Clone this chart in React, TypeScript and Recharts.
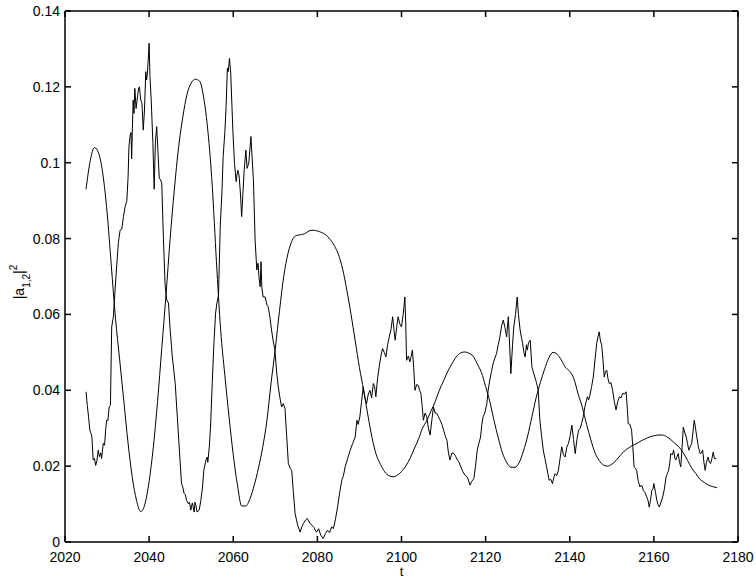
import { Line, LineChart, XAxis, YAxis } from "recharts";
import { ReactElement } from "react";

// time axis ticks and amplitude ticks
const xTicks = [2020, 2040, 2060, 2080, 2100, 2120, 2140, 2160, 2180];
const yTicks = [0, 0.02, 0.04, 0.06, 0.08, 0.1, 0.12, 0.14];

// smooth mode, one sample per unit of t starting at 2025
const smoothStart = 2025;
const smoothValues = [
  0.093, 0.1005, 0.104, 0.1025, 0.097, 0.087, 0.073, 0.059, 0.048, 0.037,
  0.026, 0.017, 0.011, 0.008, 0.01, 0.016, 0.025, 0.037, 0.051, 0.065,
  0.08, 0.093, 0.104, 0.112, 0.118, 0.121, 0.122, 0.1215, 0.117, 0.108,
  0.094, 0.074, 0.056, 0.044, 0.033, 0.023, 0.015, 0.0095, 0.0095, 0.0115,
  0.015, 0.0195, 0.025, 0.032, 0.042, 0.051, 0.061, 0.07, 0.076, 0.0795,
  0.0808, 0.081, 0.0813, 0.082, 0.0822, 0.082, 0.0816, 0.081, 0.0798, 0.0782,
  0.0758, 0.072, 0.0664, 0.06, 0.053, 0.046, 0.04, 0.0335, 0.0275, 0.023,
  0.0205, 0.0185, 0.0175, 0.0172, 0.0176, 0.0186, 0.02, 0.022, 0.0245, 0.027,
  0.03, 0.032, 0.0345, 0.037, 0.04, 0.0425, 0.045, 0.047, 0.0488, 0.0498,
  0.0501, 0.0498, 0.049, 0.047, 0.0447, 0.041, 0.037, 0.032, 0.0275, 0.0235,
  0.021, 0.0197, 0.0197, 0.021, 0.024, 0.028, 0.033, 0.038, 0.042, 0.0455,
  0.0485, 0.05, 0.0495, 0.048, 0.046, 0.045, 0.043, 0.039, 0.0355, 0.031,
  0.027, 0.0235, 0.0215, 0.0203, 0.02, 0.0205, 0.0215, 0.0228, 0.024, 0.0248,
  0.0255, 0.026, 0.0267, 0.0272, 0.0277, 0.028, 0.0282, 0.0282, 0.0278, 0.027,
  0.026, 0.025, 0.0235, 0.0215, 0.0195, 0.018, 0.0165, 0.0157, 0.015, 0.0146,
  0.0143,
];

// noisy mode, [t, value]
const noisyPoints: [number, number][] = [
  [2025.0, 0.0396], [2025.3, 0.036], [2025.6, 0.033], [2025.9, 0.0295], [2026.2, 0.0286],
  [2026.4, 0.0275], [2026.7, 0.0216], [2027.0, 0.022], [2027.3, 0.0202], [2027.6, 0.0215],
  [2027.9, 0.0242], [2028.2, 0.0225], [2028.5, 0.0235], [2028.7, 0.022], [2029.1, 0.026],
  [2029.4, 0.0255], [2029.7, 0.03], [2029.9, 0.0321], [2030.2, 0.032], [2030.5, 0.0356],
  [2030.8, 0.036], [2031.1, 0.0567], [2031.5, 0.0594], [2031.9, 0.0664], [2032.3, 0.073],
  [2032.7, 0.079], [2033.1, 0.0822], [2033.5, 0.0825], [2033.9, 0.0858], [2034.3, 0.0884],
  [2034.7, 0.09], [2035.0, 0.0963], [2035.2, 0.1042], [2035.5, 0.1073], [2035.7, 0.108],
  [2035.85, 0.101], [2036.0, 0.108], [2036.2, 0.1165], [2036.4, 0.113], [2036.6, 0.1196],
  [2036.9, 0.1143], [2037.3, 0.118], [2037.5, 0.1196], [2037.7, 0.12], [2038.0, 0.1165],
  [2038.3, 0.1157], [2038.6, 0.1086], [2038.9, 0.1139], [2039.2, 0.124], [2039.4, 0.1218],
  [2039.6, 0.1236], [2040.0, 0.1315], [2040.2, 0.1227], [2040.5, 0.1165], [2040.9, 0.105],
  [2041.2, 0.093], [2041.5, 0.1057], [2041.8, 0.1095], [2042.1, 0.103], [2042.4, 0.096],
  [2042.7, 0.0955], [2043.0, 0.0946], [2043.4, 0.08], [2043.8, 0.0677], [2044.2, 0.0638],
  [2044.6, 0.063], [2045.0, 0.0559], [2045.3, 0.052], [2045.5, 0.0488], [2045.7, 0.047],
  [2046.2, 0.0418], [2046.7, 0.033], [2047.3, 0.0224], [2047.7, 0.0154], [2048.0, 0.0145],
  [2048.3, 0.0128], [2048.6, 0.0125], [2048.9, 0.011], [2049.3, 0.0101], [2049.6, 0.0105],
  [2049.9, 0.0084], [2050.1, 0.0095], [2050.3, 0.0103], [2050.5, 0.009], [2050.7, 0.0079],
  [2050.9, 0.0105], [2051.1, 0.0097], [2051.4, 0.0079], [2051.9, 0.0084], [2052.3, 0.011],
  [2052.7, 0.0145], [2053.0, 0.0189], [2053.5, 0.0216], [2053.8, 0.0224], [2053.95, 0.021],
  [2054.3, 0.025], [2054.6, 0.0303], [2055.0, 0.0418], [2055.4, 0.0523], [2055.8, 0.0603],
  [2056.1, 0.0629], [2056.3, 0.064], [2056.5, 0.065], [2056.9, 0.0831], [2057.3, 0.092],
  [2057.6, 0.1016], [2058.0, 0.108], [2058.3, 0.1148], [2058.6, 0.1249], [2058.8, 0.124],
  [2059.1, 0.1275], [2059.4, 0.1236], [2059.9, 0.1086], [2060.3, 0.0998], [2060.7, 0.095],
  [2060.9, 0.097], [2061.1, 0.098], [2061.4, 0.0965], [2061.7, 0.092], [2062.0, 0.0858],
  [2062.3, 0.092], [2062.6, 0.098], [2063.0, 0.1033], [2063.3, 0.0985], [2063.7, 0.1],
  [2064.2, 0.1069], [2064.5, 0.101], [2064.8, 0.0954], [2065.2, 0.0796], [2065.6, 0.0717],
  [2065.9, 0.0735], [2066.1, 0.07], [2066.4, 0.0673], [2066.6, 0.0739], [2066.8, 0.067],
  [2067.1, 0.0646], [2067.6, 0.0646], [2068.0, 0.0625], [2068.3, 0.062], [2068.7, 0.0595],
  [2069.1, 0.0559], [2069.5, 0.053], [2069.9, 0.0506], [2070.3, 0.045], [2070.7, 0.0409],
  [2071.1, 0.038], [2071.5, 0.0356], [2071.9, 0.0365], [2072.3, 0.0352], [2072.7, 0.028],
  [2073.1, 0.0207], [2073.5, 0.0195], [2073.9, 0.0189], [2074.3, 0.013], [2074.7, 0.0075],
  [2075.3, 0.0045], [2075.9, 0.0026], [2076.3, 0.004], [2076.7, 0.0049], [2077.2, 0.0058],
  [2077.6, 0.0062], [2078.2, 0.005], [2078.7, 0.0044], [2079.2, 0.0038], [2079.8, 0.0026],
  [2080.3, 0.0035], [2080.8, 0.0018], [2081.4, 0.0009], [2081.9, 0.0022], [2082.4, 0.0031],
  [2082.9, 0.0025], [2083.4, 0.004], [2083.8, 0.0035], [2084.3, 0.006], [2084.8, 0.0092],
  [2085.3, 0.013], [2085.8, 0.0163], [2086.2, 0.0175], [2086.6, 0.0198], [2087.2, 0.022],
  [2087.8, 0.0242], [2088.4, 0.026], [2089.0, 0.0277], [2089.4, 0.0321], [2089.7, 0.031],
  [2090.1, 0.033], [2090.5, 0.037], [2090.9, 0.0409], [2091.3, 0.038], [2091.7, 0.0365],
  [2092.1, 0.039], [2092.5, 0.04], [2092.9, 0.038], [2093.3, 0.0418], [2093.6, 0.041],
  [2093.9, 0.0383], [2094.3, 0.043], [2094.7, 0.0462], [2095.1, 0.049], [2095.5, 0.051],
  [2095.9, 0.05], [2096.3, 0.0488], [2096.7, 0.052], [2097.1, 0.0541], [2097.5, 0.056],
  [2097.9, 0.0594], [2098.2, 0.056], [2098.5, 0.0532], [2098.9, 0.057], [2099.2, 0.0594],
  [2099.6, 0.0575], [2100.0, 0.0567], [2100.4, 0.06], [2100.8, 0.0646], [2101.0, 0.058],
  [2101.2, 0.0479], [2101.6, 0.049], [2102.0, 0.0475], [2102.3, 0.049], [2102.6, 0.0506],
  [2102.9, 0.046], [2103.2, 0.04], [2103.6, 0.0415], [2104.0, 0.0413], [2104.3, 0.04],
  [2104.6, 0.0392], [2104.9, 0.036], [2105.2, 0.0321], [2105.6, 0.034], [2106.0, 0.033],
  [2106.4, 0.03], [2106.8, 0.0282], [2107.2, 0.032], [2107.6, 0.0356], [2108.0, 0.034],
  [2108.4, 0.0339], [2108.8, 0.033], [2109.2, 0.0321], [2109.6, 0.031], [2110.0, 0.0295],
  [2110.4, 0.028], [2110.8, 0.0268], [2111.1, 0.024], [2111.5, 0.0216], [2112.0, 0.0235],
  [2112.5, 0.0233], [2112.9, 0.0225], [2113.3, 0.0216], [2113.7, 0.021], [2114.1, 0.0198],
  [2114.6, 0.0185], [2115.1, 0.0176], [2115.7, 0.017], [2116.3, 0.015], [2116.7, 0.016],
  [2117.2, 0.0167], [2117.6, 0.02], [2118.0, 0.0242], [2118.4, 0.026], [2118.8, 0.0277],
  [2119.1, 0.031], [2119.4, 0.033], [2119.8, 0.034], [2120.3, 0.0365], [2120.6, 0.04],
  [2121.0, 0.0427], [2121.4, 0.045], [2121.8, 0.0471], [2122.2, 0.0485], [2122.6, 0.0497],
  [2123.0, 0.052], [2123.4, 0.0541], [2123.8, 0.057], [2124.2, 0.0585], [2124.6, 0.0565],
  [2125.0, 0.0541], [2125.4, 0.0594], [2125.7, 0.052], [2126.0, 0.0444], [2126.4, 0.052],
  [2126.7, 0.0567], [2127.1, 0.06], [2127.5, 0.0646], [2127.8, 0.06], [2128.2, 0.0559],
  [2128.5, 0.054], [2128.8, 0.0523], [2129.1, 0.05], [2129.4, 0.0488], [2129.7, 0.052],
  [2129.9, 0.0506], [2130.2, 0.0525], [2130.6, 0.0532], [2131.0, 0.0462], [2131.3, 0.045],
  [2131.7, 0.0435], [2132.1, 0.042], [2132.5, 0.04], [2132.9, 0.0321], [2133.3, 0.028],
  [2133.7, 0.0242], [2134.1, 0.022], [2134.5, 0.0198], [2134.8, 0.018], [2135.1, 0.0163],
  [2135.5, 0.0165], [2135.9, 0.0154], [2136.2, 0.017], [2136.5, 0.018], [2136.9, 0.0175],
  [2137.3, 0.0189], [2137.7, 0.022], [2138.1, 0.0251], [2138.5, 0.023], [2138.9, 0.0224],
  [2139.3, 0.025], [2139.7, 0.026], [2140.1, 0.028], [2140.5, 0.0308], [2140.9, 0.027],
  [2141.3, 0.0233], [2141.7, 0.027], [2142.1, 0.0295], [2142.5, 0.03], [2142.8, 0.0312],
  [2143.2, 0.033], [2143.6, 0.0356], [2143.9, 0.037], [2144.2, 0.0383], [2144.5, 0.0375],
  [2144.8, 0.0387], [2145.2, 0.041], [2145.6, 0.0435], [2146.0, 0.048], [2146.4, 0.0523],
  [2146.7, 0.054], [2147.0, 0.0554], [2147.3, 0.053], [2147.6, 0.0519], [2147.9, 0.048],
  [2148.2, 0.0435], [2148.5, 0.045], [2148.8, 0.0453], [2149.1, 0.043], [2149.4, 0.0418],
  [2149.8, 0.042], [2150.2, 0.04], [2150.6, 0.037], [2151.0, 0.0348], [2151.4, 0.037],
  [2151.8, 0.0383], [2152.2, 0.038], [2152.6, 0.0392], [2153.0, 0.039], [2153.4, 0.0396],
  [2153.7, 0.035], [2153.9, 0.0312], [2154.3, 0.031], [2154.7, 0.0295], [2155.0, 0.025],
  [2155.3, 0.0198], [2155.6, 0.0195], [2155.9, 0.0189], [2156.3, 0.016], [2156.7, 0.0145],
  [2157.1, 0.015], [2157.5, 0.0136], [2157.9, 0.013], [2158.3, 0.0119], [2158.6, 0.011],
  [2158.9, 0.0092], [2159.2, 0.011], [2159.5, 0.0136], [2159.8, 0.014], [2160.0, 0.0154],
  [2160.4, 0.013], [2160.7, 0.011], [2161.0, 0.0098], [2161.3, 0.0092], [2161.7, 0.0105],
  [2162.1, 0.0119], [2162.5, 0.014], [2162.9, 0.0172], [2163.2, 0.018], [2163.5, 0.0189],
  [2163.8, 0.021], [2164.0, 0.0233], [2164.4, 0.023], [2164.7, 0.0242], [2165.0, 0.022],
  [2165.2, 0.0216], [2165.5, 0.0225], [2165.8, 0.0233], [2166.1, 0.021], [2166.4, 0.0198],
  [2166.7, 0.025], [2167.0, 0.0303], [2167.3, 0.029], [2167.7, 0.0277], [2168.0, 0.026],
  [2168.3, 0.0242], [2168.6, 0.025], [2169.0, 0.026], [2169.3, 0.029], [2169.6, 0.0321],
  [2169.9, 0.03], [2170.2, 0.0277], [2170.6, 0.025], [2171.0, 0.0233], [2171.3, 0.0235],
  [2171.6, 0.0242], [2171.9, 0.021], [2172.2, 0.0189], [2172.5, 0.021], [2172.9, 0.0224],
  [2173.2, 0.021], [2173.5, 0.0207], [2173.8, 0.022], [2174.1, 0.0237], [2174.4, 0.022],
  [2174.8, 0.022],
];

const smoothData = smoothValues.map((v, i) => ({ t: smoothStart + i, v }));
const noisyData = noisyPoints.map(([t, v]) => ({ t, v }));

const W = 756;
const H = 578;
const PLOT_TOP = 11;
const PLOT_RIGHT = 738;
const TICK = 6;
const X_GAP = 4;
const Y_GAP = 5;

const font = "'Liberation Sans', Arial, Helvetica, sans-serif";
const ink = { stroke: "#000", strokeWidth: 1.5 };

// bottom tick: inward mark at the bottom, mirrored mark at the top, label below
function XTick(props: any): ReactElement {
  const { x, y, payload } = props;
  const axisY = y - X_GAP;
  return (
    <g>
      <line x1={x} x2={x} y1={axisY} y2={axisY - TICK} {...ink} />
      <line x1={x} x2={x} y1={PLOT_TOP} y2={PLOT_TOP + TICK} {...ink} />
      <text
        x={x}
        y={axisY + 20}
        textAnchor="middle"
        fontFamily={font}
        fontSize={14}
        fill="#000"
      >
        {payload.value}
      </text>
    </g>
  );
}

// left tick: inward mark at the left, mirrored mark at the right, label left
function YTick(props: any): ReactElement {
  const { x, y, payload } = props;
  const axisX = x + Y_GAP;
  return (
    <g>
      <line x1={axisX} x2={axisX + TICK} y1={y} y2={y} {...ink} />
      <line x1={PLOT_RIGHT} x2={PLOT_RIGHT - TICK} y1={y} y2={y} {...ink} />
      <text
        x={axisX - 5}
        y={y}
        dy="0.36em"
        textAnchor="end"
        fontFamily={font}
        fontSize={14}
        fill="#000"
      >
        {payload.value}
      </text>
    </g>
  );
}

function YTitle(): ReactElement {
  return (
    <text
      transform="translate(24, 282) rotate(-90)"
      textAnchor="middle"
      fontFamily={font}
      fontSize={14}
      fill="#000"
    >
      <tspan>|a</tspan>
      <tspan fontSize={10} dy={6}>
        1,2
      </tspan>
      <tspan dy={-6}>|</tspan>
      <tspan fontSize={10} dy={-7}>
        2
      </tspan>
    </text>
  );
}

// x title plus the box around the plot, taken from the axis view box
function XTitle(props: any): ReactElement {
  const vb = props.viewBox || {};
  const left = vb.x;
  const right = vb.x + vb.width;
  const bottom = vb.y;
  return (
    <g>
      <line x1={left} x2={right} y1={PLOT_TOP} y2={PLOT_TOP} {...ink} />
      <line x1={right} x2={right} y1={PLOT_TOP} y2={bottom} {...ink} />
      <line x1={left} x2={right} y1={bottom} y2={bottom} {...ink} />
      <line x1={left} x2={left} y1={PLOT_TOP} y2={bottom} {...ink} />
      <text x={left + vb.width / 2} y={576} textAnchor="middle" fontFamily={font} fontSize={13} fill="#000">
        t
      </text>
    </g>
  );
}

export default function App(): ReactElement {
  return (
    <div style={{ position: "absolute", left: 0, top: 0, background: "#fff" }}>
      <LineChart
        width={W}
        height={H}
        margin={{ top: PLOT_TOP, right: W - PLOT_RIGHT, bottom: 0, left: 0 }}
      >
        <XAxis
          dataKey="t"
          type="number"
          domain={[2020, 2180]}
          ticks={xTicks}
          interval={0}
          allowDataOverflow
          height={36}
          tickSize={0}
          tickLine={false}
          axisLine={false}
          tickMargin={X_GAP}
          tick={XTick}
          label={{ content: (p: any) => <XTitle {...p} /> }}
        />
        <YAxis
          type="number"
          domain={[0, 0.14]}
          ticks={yTicks}
          interval={0}
          allowDataOverflow
          width={65}
          tickSize={0}
          tickLine={false}
          axisLine={false}
          tickMargin={Y_GAP}
          tick={YTick}
          label={{ content: () => <YTitle /> }}
        />
        <Line
          data={smoothData}
          dataKey="v"
          type="monotone"
          stroke="#000"
          strokeWidth={1}
          dot={false}
          isAnimationActive={false}
        />
        <Line
          data={noisyData}
          dataKey="v"
          type="linear"
          stroke="#000"
          strokeWidth={1}
          dot={false}
          isAnimationActive={false}
        />
      </LineChart>
    </div>
  );
}
